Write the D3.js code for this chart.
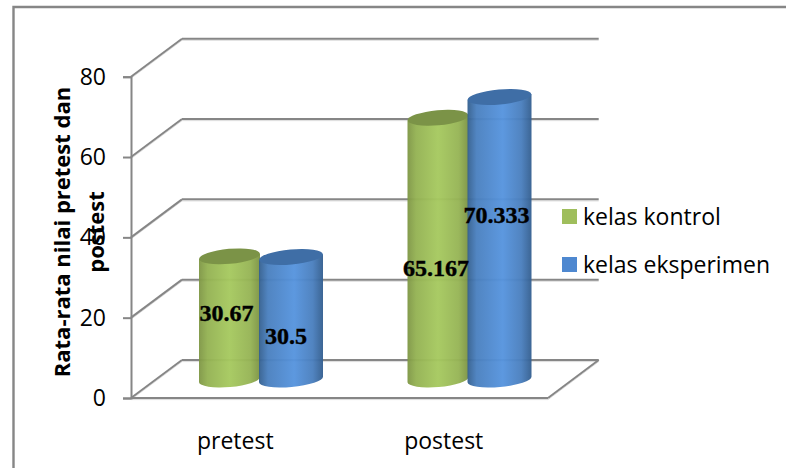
<!DOCTYPE html>
<html>
<head>
<meta charset="utf-8">
<script src="https://cdn.jsdelivr.net/npm/d3@7/dist/d3.min.js"></script>
<style>
  html, body { margin: 0; padding: 0; background: #fff; }
  svg { display: block; }
  text { font-family: "Open Sans", sans-serif; fill: #000; }
</style>
</head>
<body>
<svg id="chart" width="786" height="468"></svg>
<script>
// data
const categories = ["pretest", "postest"];
const seriesNames = ["kelas kontrol", "kelas eksperimen"];
const kontrolValues = [30.67, 65.167];
const eksperimenValues = [30.5, 70.333];
const yTicks = [0, 20, 40, 60, 80];

const seriesValues = [kontrolValues, eksperimenValues];
const bars = categories.flatMap((cat, c) => seriesNames.map((name, s) => ({ cat, name, c, s, value: seriesValues[s][c] })));

// hand-placed data labels in the original, offset from the middle of each cylinder
const labelNudge = { "pretest|0": [-3, -5], "pretest|1": [-5, 18], "postest|0": [-2, 19], "postest|1": [-3, -23] };

const GRID = "#868686", GRID_SHADOW = "#dcdcdc";
const DEPTH = { dx: 51, dy: -38 };       // 3d wall offset
const BAR_DEPTH = { dx: 25, dy: -18.5 }; // cylinders stand mid floor
const RX = [30.5, 32], RY = 7.5, TILT = -5;

const svg = d3.select("#chart");
const x = d3.scaleBand().domain(categories).range([131, 548]);
const y = d3.scaleLinear().domain([0, 80]).range([398, 76.7]);
const xSeries = d3.scaleBand().domain(d3.range(seriesNames.length)).range([-61.5, 61.5]);

function line(x1, y1, x2, y2, width = 2) {
  svg.append("line").attr("x1", x1).attr("y1", y1 + 1.6).attr("x2", x2).attr("y2", y2 + 1.6)
    .attr("stroke", GRID_SHADOW).attr("stroke-width", 1);
  svg.append("line").attr("x1", x1).attr("y1", y1).attr("x2", x2).attr("y2", y2)
    .attr("stroke", GRID).attr("stroke-width", width);
}

// chart area border, only top and left are in the frame
svg.append("path").attr("d", "M786,7H13.5V468").attr("fill", "none").attr("stroke", GRID).attr("stroke-width", 2.4);

// ─── gradients ───────────────────────────────────────────────────────────────
const defs = svg.append("defs");
const bodyStops = [
  [["0%", "#7f9746"], ["14%", "#94b253"], ["50%", "#a6c95f"], ["84%", "#96b455"], ["100%", "#7c9344"]],
  [["0%", "#35608f"], ["14%", "#4a80bf"], ["55%", "#5694de"], ["84%", "#4a7fbe"], ["100%", "#345f90"]]
];
bodyStops.forEach((stops, i) => {
  defs.append("linearGradient").attr("id", `body${i}`)
    .selectAll("stop").data(stops).join("stop")
    .attr("offset", d => d[0]).attr("stop-color", d => d[1]);
});
const topFill = ["#7b9347", "#3f6ea6"];

// ─── walls and grid ──────────────────────────────────────────────────────────
yTicks.forEach(t => {
  line(131, y(t), 131 + DEPTH.dx, y(t) + DEPTH.dy);
  line(131 + DEPTH.dx, y(t) + DEPTH.dy, 598.7, y(t) + DEPTH.dy);
});
line(x.range()[1], y(0), 598.7, y(0) + DEPTH.dy);
line(x.range()[0], y(0), x.range()[1], y(0));

// ─── axes ────────────────────────────────────────────────────────────────────
svg.append("g").attr("transform", "translate(131,0)")
  .call(d3.axisLeft(y).tickValues(yTicks).tickSize(8).tickPadding(17))
  .call(g => g.selectAll(".domain").attr("stroke", GRID).attr("stroke-width", 2))
  .call(g => g.selectAll(".tick line").attr("stroke", GRID).attr("stroke-width", 2))
  .call(g => g.selectAll("text").attr("font-size", 23).style("font-family", '"Open Sans", sans-serif'));

svg.append("g").attr("transform", `translate(0,${y(0)})`)
  .call(d3.axisBottom(x).tickSize(0).tickPadding(35))
  .call(g => g.select(".domain").remove())
  .call(g => g.selectAll("text").attr("font-size", 23).style("font-family", '"Open Sans", sans-serif'));

// ─── cylinders ───────────────────────────────────────────────────────────────
const cx = d => x(d.cat) + x.bandwidth() / 2 + xSeries(d.s) + xSeries.bandwidth() / 2 + BAR_DEPTH.dx;
const baseY = y(0) + BAR_DEPTH.dy;
const topY = d => y(d.value) + BAR_DEPTH.dy;
const slope = Math.tan(TILT * Math.PI / 180);

const cyl = svg.selectAll("g.cyl").data(bars).join("g").attr("class", "cyl");
cyl.append("path")
  .attr("fill", d => `url(#body${d.s})`)
  .attr("fill-opacity", 0.96)
  .attr("d", d => {
    const rx = RX[d.s], l = cx(d) - rx, r = cx(d) + rx, dy = rx * slope;
    return `M${l},${topY(d) - dy}L${l},${baseY - dy}A${rx},${RY} ${TILT} 0 0 ${r},${baseY + dy}L${r},${topY(d) + dy}Z`;
  });
cyl.append("ellipse")
  .attr("rx", d => RX[d.s]).attr("ry", RY)
  .attr("fill", d => topFill[d.s])
  .attr("transform", d => `translate(${cx(d)},${topY(d)}) rotate(${TILT})`);

// ─── data labels ─────────────────────────────────────────────────────────────
svg.selectAll("text.bar-label").data(bars).join("text")
  .attr("class", "bar-label")
  .attr("x", d => cx(d) + labelNudge[`${d.cat}|${d.s}`][0])
  .attr("y", d => (topY(d) + baseY) / 2 + labelNudge[`${d.cat}|${d.s}`][1])
  .attr("dy", "0.34em")
  .attr("text-anchor", "middle")
  .attr("font-size", 24)
  .attr("font-weight", "bold")
  .attr("stroke", "#000").attr("stroke-width", 0.4)
  .style("font-family", '"Liberation Serif", serif')
  .text(d => d.value);

// ─── legend ──────────────────────────────────────────────────────────────────
const legend = svg.selectAll("g.legend").data(seriesNames).join("g")
  .attr("class", "legend")
  .attr("transform", (d, i) => `translate(562,${209 + i * 48})`);
legend.append("rect").attr("width", 15).attr("height", 15).attr("fill", (d, i) => ["#9fbe5c", "#4e88d0"][i]);
legend.append("text").attr("x", 21).attr("y", 8).attr("dy", "0.36em").attr("font-size", 23).text(d => d);

// ─── y title ─────────────────────────────────────────────────────────────────
const title = svg.append("text").attr("transform", "translate(0,232) rotate(-90)")
  .attr("text-anchor", "middle").attr("font-size", 22).attr("font-weight", "bold");
title.append("tspan").attr("x", 0).attr("y", 70).text("Rata-rata nilai pretest dan");
title.append("tspan").attr("x", 0).attr("y", 104).text("postest");
</script>
</body>
</html>
